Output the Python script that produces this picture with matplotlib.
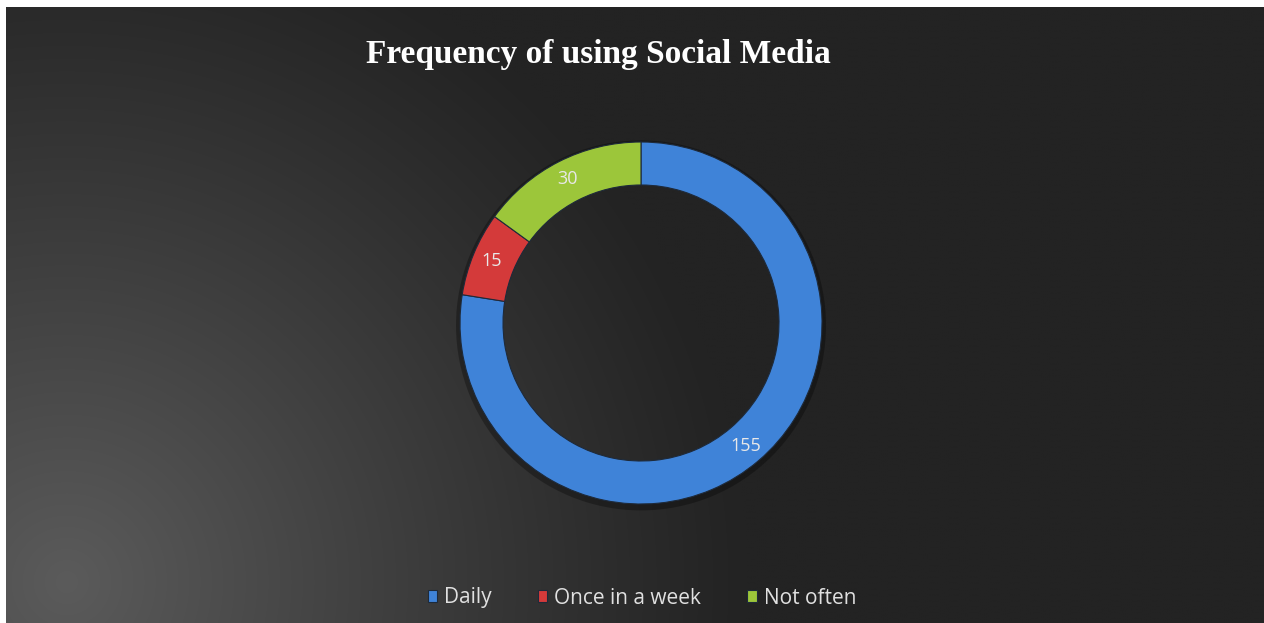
import numpy as np
import matplotlib.pyplot as plt
from matplotlib.patches import Wedge

categories = ["Daily", "Once in a week", "Not often"]
counts = [155, 15, 30]
colors = ["#3f83d8", "#d43a3a", "#9cc63a"]

W, H = 1264, 623
fig = plt.figure(figsize=(W / 100, H / 100), dpi=100, facecolor="white")

# dark panel with a soft light glow in the lower-left corner
bg = fig.add_axes([6 / W, 0, 1 - 6 / W, (H - 7) / H])
bg.set_axis_off()
ny, nx = 300, 600
xx, yy = np.meshgrid(np.linspace(0, 1258, nx), np.linspace(0, 616, ny))
d = np.sqrt((xx - 60) ** 2 + (yy - 40) ** 2)
glow = np.clip(1 - d / 680, 0, 1) ** 1.1
shade = (35 + 56 * glow) / 255
bg.imshow(np.dstack([shade, shade, shade]), origin="lower", aspect="auto",
          extent=[0, 1, 0, 1], interpolation="bilinear")
bg.set_xlim(0, 1)
bg.set_ylim(0, 1)

fig.text(598 / W, 1 - 55 / H, "Frequency of using Social Media",
         ha="center", va="center", color="white", fontsize=24,
         fontweight="bold", family="Liberation Serif")

# donut
cx, cy, half = 641, 323, 200
ax = fig.add_axes([(cx - half) / W, (H - cy - half) / H, 2 * half / W, 2 * half / H])
ax.set_facecolor("none")
# faint shadow outside the ring
ax.add_patch(Wedge((0, -0.012), 0.925, 0, 360, width=0.05, color="black", alpha=0.3, lw=0))
wedges, texts = ax.pie(counts, colors=colors, startangle=90, counterclock=False,
                       radius=0.905, labels=[str(c) for c in counts],
                       wedgeprops=dict(width=0.215, edgecolor="#1e2a3a", linewidth=0.8),
                       textprops=dict(color="#e8e8e8", fontsize=13, family="Open Sans"))
for w, t in zip(wedges, texts):
    ang = np.deg2rad((w.theta1 + w.theta2) / 2)
    t.set_position((0.81 * np.cos(ang), 0.81 * np.sin(ang)))
    t.set_ha("center")
    t.set_va("center")
ax.set_xlim(-1, 1)
ax.set_ylim(-1, 1)
ax.set_axis_off()

leg = fig.legend(wedges, categories, loc="center", bbox_to_anchor=(642 / W, 1 - 598 / H),
                 ncol=3, frameon=False, handlelength=0.45, handleheight=0.45,
                 handletextpad=0.35, columnspacing=2.2,
                 prop=dict(family="Open Sans", size=15))
for txt in leg.get_texts():
    txt.set_color("#e0e0e0")

fig.savefig("out.png", dpi=100, facecolor=fig.get_facecolor())
